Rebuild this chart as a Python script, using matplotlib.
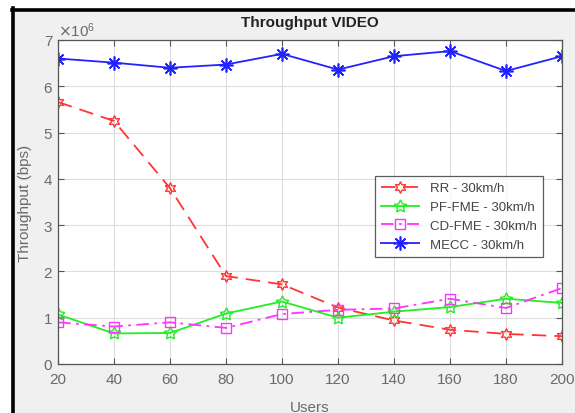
import matplotlib
matplotlib.use('Agg')
import matplotlib.pyplot as plt
from matplotlib.patches import Rectangle
from matplotlib.lines import Line2D
import numpy as np

users = [20, 40, 60, 80, 100, 120, 140, 160, 180, 200]
rr = [5.66, 5.25, 3.8, 1.9, 1.72, 1.22, 0.94, 0.74, 0.65, 0.6]
pf_fme = [1.07, 0.66, 0.67, 1.09, 1.35, 1.0, 1.13, 1.23, 1.41, 1.32]
cd_fme = [0.9, 0.81, 0.9, 0.78, 1.08, 1.17, 1.2, 1.41, 1.21, 1.64]
mecc = [6.6, 6.51, 6.4, 6.47, 6.7, 6.36, 6.65, 6.76, 6.33, 6.65]
scale = 1e6

W, H = 575, 414
plt.rcParams['font.family'] = ['Liberation Sans', 'DejaVu Sans']

fig = plt.figure(figsize=(W / 100, H / 100), dpi=100)
fig.patch.set_facecolor('white')

# MATLAB window backdrop with black frame on left and top
fig.patches.append(Rectangle((15 / W, 0), 1, 1 - 12 / H, transform=fig.transFigure,
                             facecolor='#f0f0f0', edgecolor='none', zorder=-10))
fig.lines.append(Line2D([13.5 / W, 13.5 / W], [0, 1 - 9 / H], transform=fig.transFigure,
                        color='black', linewidth=2.6, zorder=-5))
fig.lines.append(Line2D([12 / W, 1], [1 - 10.5 / H, 1 - 10.5 / H], transform=fig.transFigure,
                        color='black', linewidth=2.6, zorder=-5))

ax = fig.add_axes([58 / W, 1 - 365 / H, 504 / W, 324 / H])
ax.set_zorder(1)
ax.set_facecolor('white')

x = np.array(users)
l1, = ax.plot(x, np.array(rr) * scale, color='#ff3535', linestyle=(0, (8, 4.5)), linewidth=1.3,
              marker=(6, 1, 0), markersize=8.5, markerfacecolor='none', markeredgecolor='#ff3535',
              label='RR - 30km/h')
l2, = ax.plot(x, np.array(pf_fme) * scale, color='#22ee22', linestyle='-', linewidth=1.3,
              marker=(5, 1, 0), markersize=9.5, markerfacecolor='none', markeredgecolor='#22ee22',
              label='PF-FME - 30km/h')
l3, = ax.plot(x, np.array(cd_fme) * scale, color='#ff33ff', linestyle=(0, (7, 3, 1.5, 3)), linewidth=1.3,
              marker='s', markersize=7.5, markerfacecolor='none', markeredgecolor='#ff33ff',
              label='CD-FME - 30km/h')
l4, = ax.plot(x, np.array(mecc) * scale, color='#2222ff', linestyle='-', linewidth=1.3,
              marker=(8, 2, 0), markersize=10, markeredgewidth=1.2, markeredgecolor='#2222ff',
              label='MECC - 30km/h')

ax.set_xlim(20, 200)
ax.set_ylim(0, 7e6)
ax.set_xticks(users)
ax.set_yticks(np.arange(0, 8) * scale)
ax.ticklabel_format(axis='y', style='sci', scilimits=(6, 6), useMathText=True)
ax.yaxis.get_offset_text().set_color('#888888')
ax.yaxis.get_offset_text().set_fontsize(11)
ax.tick_params(direction='in', top=True, right=True, colors='#555555', labelsize=11,
               length=4, width=0.8, labelcolor='#6a6a6a')
ax.tick_params(axis='x', pad=6)
ax.grid(True, color='#dddddd', linewidth=0.8)
for s in ax.spines.values():
    s.set_color('#555555')
    s.set_linewidth(0.9)

ax.set_title('Throughput VIDEO', fontsize=11, fontweight='bold', color='#222222', pad=10)
ax.set_ylabel('Throughput (bps)', fontsize=11, color='#6a6a6a', labelpad=8)
ax.set_xlabel('Users', fontsize=11, color='#6a6a6a', labelpad=10)

leg = ax.legend(handles=[l1, l2, l3, l4], loc='upper right', bbox_to_anchor=(0.975, 0.6),
                fontsize=9.5, frameon=True, fancybox=False, edgecolor='#333333',
                labelspacing=0.5, handlelength=2.9, borderpad=0.45, handletextpad=0.8)
leg.get_frame().set_linewidth(0.9)
for t in leg.get_texts():
    t.set_color('#444444')

fig.savefig('out.png', dpi=100, facecolor=fig.get_facecolor())
